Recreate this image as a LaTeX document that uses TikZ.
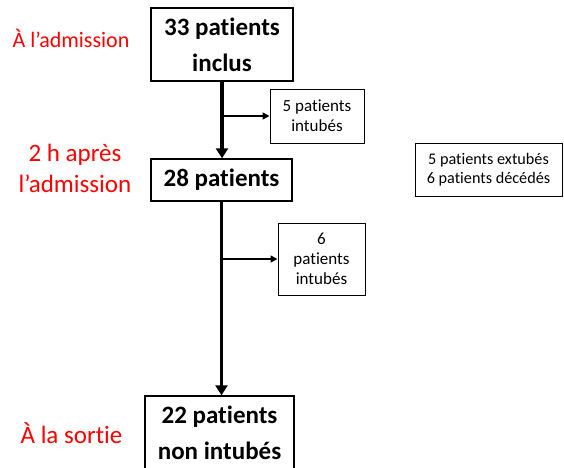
\documentclass[tikz,border=0pt]{standalone}
\usepackage{fontspec}
\setmainfont{Carlito}[Ligatures=NoCommon]
\usetikzlibrary{arrows.meta}
\definecolor{lblred}{RGB}{255,0,0}
\tikzset{
  bigbox/.style={draw, line width=1.4pt, inner sep=0pt, align=center,
    font=\bfseries\fontsize{25}{36}\selectfont},
  smallbox/.style={draw, line width=1pt, inner sep=0pt, align=center,
    font=\fontsize{17}{20}\selectfont},
  sidebox/.style={draw, line width=1pt, inner sep=0pt, align=center,
    font=\fontsize{16.2}{18.5}\selectfont},
  timelbl/.style={text=lblred, inner sep=0pt, align=center,
    font=\fontsize{22}{31}\selectfont},
  timelblbig/.style={timelbl, font=\fontsize{25}{31}\selectfont},
  mainflow/.style={line width=3.5pt, -{Triangle[length=10pt,width=12pt]}},
  branch/.style={line width=1.5pt, -{Triangle[length=7pt,width=7pt]}}
}
\begin{document}
\begin{tikzpicture}[x=1pt,y=-1pt]
\useasboundingbox (0,0) rectangle (564,467);
\node[bigbox, minimum width=142pt, minimum height=73pt] (b1) at (222,44.5) {33 patients\\inclus};
\node[bigbox, minimum width=141pt, minimum height=42pt] (b2) at (221.5,180) {28 patients};
\node[bigbox, minimum width=149pt, minimum height=74pt] (b3) at (219.5,433) {22 patients\\non intubés};
\node[smallbox, minimum width=94pt, minimum height=54pt] (s1) at (317,116) {5 patients\\intubés};
\node[smallbox, minimum width=87pt, minimum height=72pt] (s2) at (321.5,259) {6\\patients\\intubés};
\node[sidebox, minimum width=147pt, minimum height=53pt] (r) at (488.5,169.5) {5 patients extubés\\6 patients décédés};
\node[timelbl] (l1) at (71,38) {À l’admission};
\node[timelblbig] (l2) at (75,168) {2 h après\\l’admission};
\node[timelblbig] (l3) at (71.5,433) {À la sortie};
\draw[mainflow] (b1.south) -- (b1.south |- b2.north);
\draw[mainflow] (b2.south) -- (b2.south |- b3.north);
\draw[branch] (b1.south |- s1.west) -- (s1.west);
\draw[branch] (b2.south |- s2.west) -- (s2.west);
\end{tikzpicture}
\end{document}
